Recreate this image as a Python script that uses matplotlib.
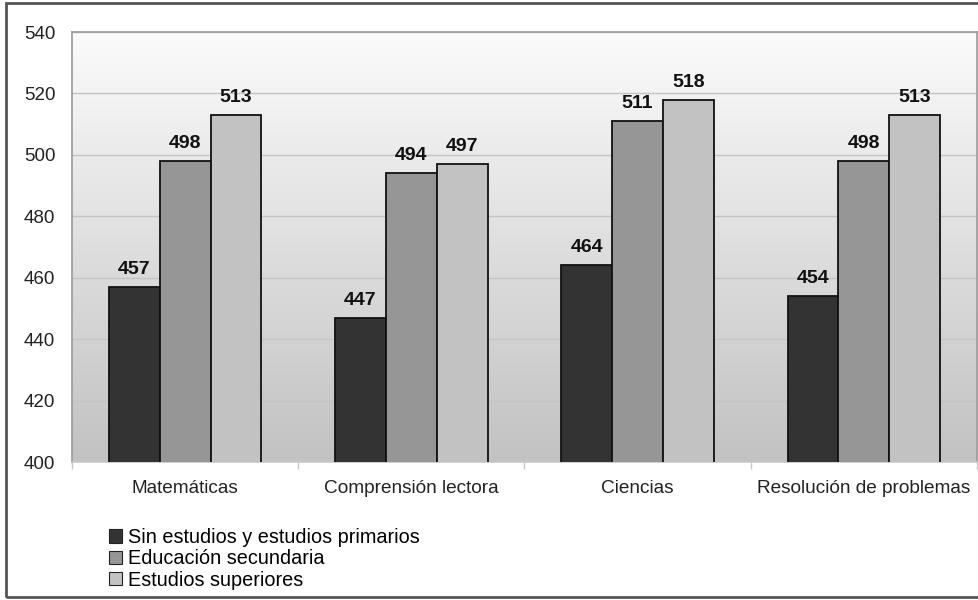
import numpy as np
import matplotlib
matplotlib.use("Agg")
import matplotlib.pyplot as plt
from matplotlib.patches import Rectangle, Patch
from matplotlib.colors import LinearSegmentedColormap

categories = ["Matemáticas", "Comprensión lectora", "Ciencias", "Resolución de problemas"]
series_names = ["Sin estudios y estudios primarios", "Educación secundaria", "Estudios superiores"]
sin_estudios = [457, 447, 464, 454]
secundaria = [498, 494, 511, 498]
superiores = [513, 497, 518, 513]
yticks = [400, 420, 440, 460, 480, 500, 520, 540]

colors = ["#333333", "#969696", "#c2c2c2"]

plt.rcParams['font.family'] = ['Liberation Sans', 'DejaVu Sans']

fig = plt.figure(figsize=(9.79, 6.0), dpi=100)
ax = fig.add_axes([72/979, 1-462/600, (977-72)/979, (462-32)/600])

# gradient background
grad = np.linspace(0, 1, 256).reshape(-1, 1)
cmap = LinearSegmentedColormap.from_list("g", ["#c2c2c2", "#fbfbfb"])
ax.imshow(grad, aspect='auto', cmap=cmap, extent=[0, 1, 0, 1], transform=ax.transAxes,
          origin='lower', zorder=0)

x = np.arange(len(categories))
w = 0.225
data = [sin_estudios, secundaria, superiores]
for i, (vals, c) in enumerate(zip(data, colors)):
    bars = ax.bar(x + (i - 1) * w, vals, width=w, bottom=0, color=c, edgecolor="#111111",
                  linewidth=1.3, zorder=3)
    for b, v in zip(bars, vals):
        ax.annotate(str(v), (b.get_x() + b.get_width()/2, v), xytext=(0, 6.5),
                    textcoords="offset points", ha="center", va="bottom",
                    fontsize=14, fontweight="bold", color="#111111", zorder=4)

ax.set_ylim(400, 540)
ax.set_xlim(-0.5, len(categories) - 0.5)
ax.set_yticks(yticks)
ax.set_yticklabels([str(t) for t in yticks], fontsize=13.5, color="#222222")
ax.yaxis.grid(True, color="#c4c4c4", linewidth=1.0, zorder=1)
ax.set_axisbelow(True)
ax.tick_params(axis='y', length=0, pad=12)
ax.set_xticks(x)
ax.set_xticklabels(categories, fontsize=13.7, color="#222222")
ax.tick_params(axis='x', length=0, pad=13)
ax.set_xticks(np.arange(len(categories) + 1) - 0.5, minor=True)
ax.tick_params(axis='x', which='minor', length=5, color="#c8c8c8", width=1)
for s in ["top", "right", "left"]:
    ax.spines[s].set_color("#9a9a9a")
    ax.spines[s].set_linewidth(1.2)
ax.spines["bottom"].set_color("#c8c8c8")
ax.spines["bottom"].set_linewidth(1.2)

handles = [Patch(facecolor=c, edgecolor="#222222", linewidth=0.8) for c in colors]
fig.legend(handles, series_names, loc="upper left", bbox_to_anchor=(109/979, 1-528/600),
           frameon=False, fontsize=14.3, handlelength=0.65, handleheight=0.65,
           handletextpad=0.3, labelspacing=0.12, borderpad=0, borderaxespad=0)

# outer frame
fig.patches.append(Rectangle((6/979, 3/600), 1.0, (597-3)/600, transform=fig.transFigure,
                             fill=False, edgecolor="#555555", linewidth=2.0))

fig.savefig("out.png", dpi=100, facecolor="white")
